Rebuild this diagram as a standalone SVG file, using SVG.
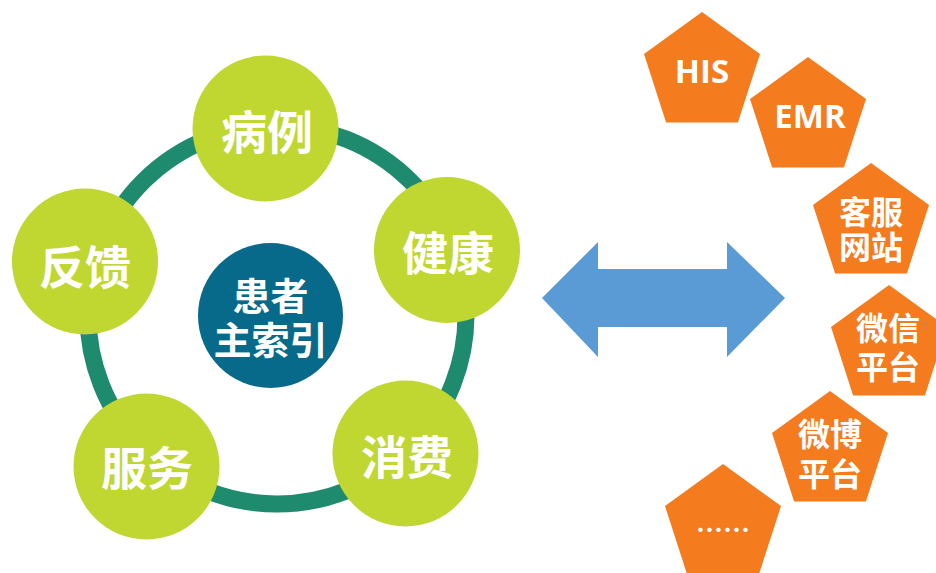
<svg xmlns="http://www.w3.org/2000/svg" xmlns:xlink="http://www.w3.org/1999/xlink" width="936" height="573" viewBox="0 0 936 573">
<style>
.g{fill:#C0D731}
.gt{fill:#fff;font-family:"Noto Sans CJK SC","Noto Sans",sans-serif;font-weight:bold;font-size:46px;text-anchor:middle;dominant-baseline:central}
.ct{fill:#fff;font-family:"Noto Sans CJK SC","Noto Sans",sans-serif;font-weight:bold;font-size:38px;text-anchor:middle;dominant-baseline:central}
.o{fill:#F47B1E}
.pt{fill:#fff;font-family:"Noto Sans CJK SC","Noto Sans",sans-serif;font-weight:bold;font-size:32px;text-anchor:middle;dominant-baseline:central}
.lt{fill:#fff;font-family:"Open Sans","Liberation Sans",sans-serif;font-weight:bold;font-size:33px;text-anchor:middle;dominant-baseline:central}
</style>
<defs>
<polygon id="pent" points="0,-61 58,-18.9 35.9,49.4 -35.9,49.4 -58,-18.9"/>
</defs>
<rect width="936" height="573" fill="#fff"/>
<g id="connectors">
<circle cx="277" cy="315" r="189" fill="none" stroke="#1E8B6E" stroke-width="17"/>
<polygon id="double-arrow" points="542,298 598,242 598,269 727,269 727,242 785,298 727,357 727,327 598,327 598,357" fill="#5B9BD5"/>
</g>
<g id="center"><circle cx="270.5" cy="315.5" r="72.5" fill="#076A8B"/><text class="ct" x="270.5" y="293">患者</text><text class="ct" x="270.5" y="337">主索引</text></g>
<g id="bingli"><circle class="g" cx="265.5" cy="128.5" r="73"/><text class="gt" x="267" y="129">病例</text></g>
<g id="jiankang"><circle class="g" cx="447" cy="250" r="73"/><text class="gt" x="448" y="250">健康</text></g>
<g id="xiaofei"><circle class="g" cx="405.5" cy="453.5" r="73"/><text class="gt" x="407" y="454">消费</text></g>
<g id="fuwu"><circle class="g" cx="146.5" cy="466.5" r="73"/><text class="gt" x="147" y="465">服务</text></g>
<g id="fankui"><circle class="g" cx="85" cy="261.5" r="73"/><text class="gt" x="85" y="264">反馈</text></g>
<g id="his"><use href="#pent" class="o" x="702" y="73"/><text class="lt" x="702" y="70">HIS</text></g>
<g id="emr"><use href="#pent" class="o" x="808" y="118"/><text class="lt" x="810" y="115">EMR</text></g>
<g id="kefu"><use href="#pent" class="o" x="871" y="224"/><text class="pt" x="871" y="210">客服</text><text class="pt" x="871" y="245">网站</text></g>
<g id="weixin"><use href="#pent" class="o" x="889" y="346"/><text class="pt" x="888" y="326">微信</text><text class="pt" x="888" y="365">平台</text></g>
<g id="weibo"><use href="#pent" class="o" x="830" y="452"/><text class="pt" x="830" y="432">微博</text><text class="pt" x="830" y="472">平台</text></g>
<g id="more"><use href="#pent" class="o" x="723" y="525"/><text class="pt" x="723" y="528" style="font-size:27px">……</text></g>
</svg>
